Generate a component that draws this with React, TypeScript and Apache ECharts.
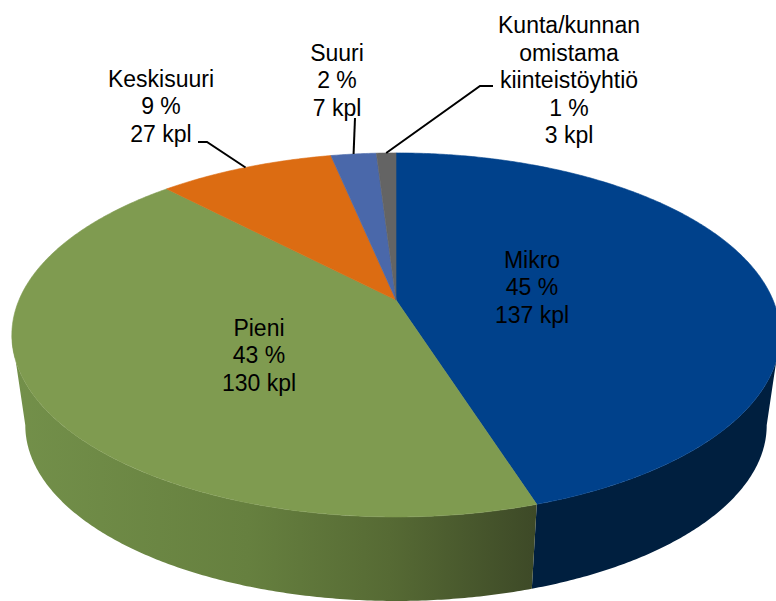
import React, { useEffect, useRef } from 'react';
import * as echarts from 'echarts';

// ---- data ----
const categories = ['Mikro', 'Pieni', 'Keskisuuri', 'Suuri', 'Kunta/kunnan\nomistama\nkiinteistöyhtiö'];
const counts = [137, 130, 27, 7, 3];
const unit = 'kpl';

// ---- styles ----
const topColors = ['#00418B', '#7F9B50', '#DC6C12', '#4A68AA', '#646464'];
const sideColors: any[] = [
  '#001F3F',
  {
    type: 'linear', x: 0, y: 0, x2: 1, y2: 0,
    colorStops: [
      { offset: 0, color: '#73904A' },
      { offset: 0.45, color: '#66803F' },
      { offset: 0.72, color: '#566A34' },
      { offset: 1, color: '#3D4927' },
    ],
  },
  '#8A4507',
  '#2C3F68',
  '#3C3C3C',
];

// label block centres and leader-line bend points (layout only)
const labelLayout: { x: number; y: number; leader: number[][] | null }[] = [
  { x: 532, y: 287, leader: null },
  { x: 259, y: 355, leader: null },
  { x: 161, y: 106, leader: [[207, 142], [198, 142]] },
  { x: 337, y: 80, leader: [[355, 118]] },
  { x: 569, y: 80, leader: [[480, 86], [493, 86]] },
];

// ---- perspective pie geometry ----
const CX = 396;
const CY = 300;
const AR = 377;
const BR = 175.3;
const P = 0.192;
const BS = 0.965;
const BO = 91.6;
const VA = Math.acos(-P);
const VB = 2 * Math.PI - VA;

function proj(theta: number, rho: number, bottom: boolean): number[] {
  const u = rho * Math.sin(theta);
  const v = rho * Math.cos(theta);
  const d = 1 + P * v;
  const s = bottom ? BS : 1;
  return [CX + (s * AR * u) / d, CY + (bottom ? BO : 0) - (s * BR * v) / d];
}

export default function App() {
  const ref = useRef<HTMLDivElement>(null);
  useEffect(() => {
    if (!ref.current) return;
    const chart = echarts.init(ref.current, undefined, { renderer: 'svg' });
    const total = counts.reduce((a, b) => a + b, 0);
    const starts: number[] = [];
    let acc = 0;
    counts.forEach((c) => {
      starts.push(acc);
      acc += c;
    });

    const renderItem = (params: any, api: any) => {
      const i = params.dataIndex;
      const val = api.value(0);
      const a0 = (starts[i] / total) * 2 * Math.PI;
      const a1 = a0 + (val / total) * 2 * Math.PI;
      const children: any[] = [];
      const step = Math.PI / 360;

      // top face
      const n = Math.max(4, Math.ceil((a1 - a0) / step));
      const top: number[][] = [[CX, CY]];
      for (let k = 0; k <= n; k++) top.push(proj(a0 + ((a1 - a0) * k) / n, 1, false));
      children.push({
        type: 'polygon',
        z2: 10,
        shape: { points: top },
        style: { fill: topColors[i], stroke: topColors[i], lineWidth: 0.6 },
      });

      // outer side (front part only)
      const lo = Math.max(a0, VA);
      const hi = Math.min(a1, VB);
      if (hi > lo) {
        const m = Math.max(4, Math.ceil((hi - lo) / step));
        const pts: number[][] = [];
        for (let k = 0; k <= m; k++) pts.push(proj(lo + ((hi - lo) * k) / m, 1, false));
        for (let k = m; k >= 0; k--) pts.push(proj(lo + ((hi - lo) * k) / m, 1, true));
        children.push({
          type: 'polygon',
          z2: 1,
          shape: { points: pts },
          style: { fill: sideColors[i] },
        });
      }

      // label
      const lay = labelLayout[i];
      const pct = Math.round((val / total) * 100);
      children.push({
        type: 'text',
        z2: 30,
        x: lay.x,
        y: lay.y,
        style: {
          text: `${categories[i]}\n${pct} %\n${val} ${unit}`,
          fill: '#000',
          fontSize: 23,
          fontFamily: '"Liberation Sans", Arial, sans-serif',
          align: 'center',
          verticalAlign: 'middle',
          textAlign: 'center',
          textVerticalAlign: 'middle',
          lineHeight: 27.5,
        },
      });

      // leader line
      if (lay.leader) {
        const mid = (a0 + a1) / 2;
        const pts = [proj(mid, 1, false), ...lay.leader];
        children.push({
          type: 'polyline',
          z2: 30,
          shape: { points: pts },
          style: { stroke: '#000', lineWidth: 2, fill: 'none' },
        });
      }

      return { type: 'group', children };
    };

    chart.setOption({
      animation: false,
      backgroundColor: '#ffffff',
      series: [
        {
          type: 'custom',
          coordinateSystem: 'none',
          renderItem,
          data: counts.map((c, i) => ({ value: [c], name: categories[i] })),
        },
      ],
    });
    return () => chart.dispose();
  }, []);
  return (
    <div
      ref={ref}
      style={{ position: 'fixed', left: 0, top: 0, width: 776, height: 601 }}
    />
  );
}
